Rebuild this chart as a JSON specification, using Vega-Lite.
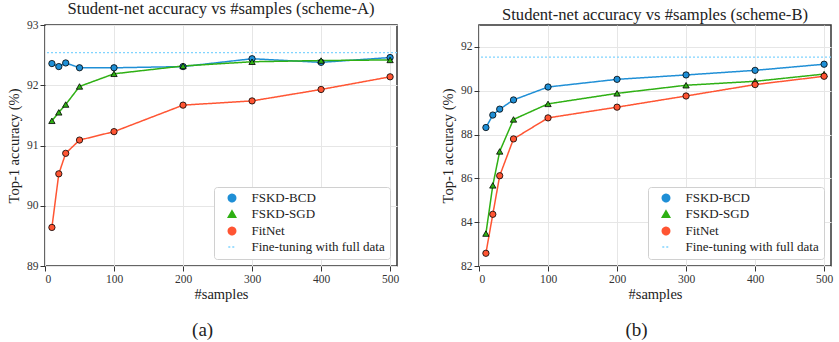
{
  "$schema": "https://vega.github.io/schema/vega-lite/v6.json",
  "padding": {"left": 5, "top": 0, "right": 2, "bottom": 0},
  "config": {
    "font": "Liberation Serif",
    "view": {"stroke": "#333333", "strokeWidth": 1.5},
    "axis": {"labelFont": "Liberation Serif", "titleFont": "Liberation Serif", "labelFontSize": 11.5, "titleFontSize": 14.5, "titleFontWeight": "normal", "labelColor": "#333333", "titleColor": "#222222", "gridColor": "#e6e6e6", "domain": false, "tickColor": "#333333", "tickSize": 5, "labelPadding": 2},
    "title": {"font": "Liberation Serif", "fontSize": 16.6, "fontWeight": "normal", "color": "#222222"},
    "legend": {"labelFont": "Liberation Serif", "labelFontSize": 13, "labelColor": "#222222", "orient": "bottom-right", "offset": 7, "fillColor": "white", "strokeColor": "#d0d0d0", "cornerRadius": 3, "padding": 4.5, "rowPadding": 2, "symbolSize": 55, "symbolStrokeWidth": 1.5, "symbolOffset": 7, "labelOffset": 13}
  },
  "resolve": {"legend": {"color": "independent", "shape": "independent", "strokeDash": "independent"}},
  "datasets": {
    "a": [
      {"series": "FSKD-BCD", "samples": 10, "acc": 92.36},
      {"series": "FSKD-BCD", "samples": 20, "acc": 92.31},
      {"series": "FSKD-BCD", "samples": 30, "acc": 92.37},
      {"series": "FSKD-BCD", "samples": 50, "acc": 92.29},
      {"series": "FSKD-BCD", "samples": 100, "acc": 92.29},
      {"series": "FSKD-BCD", "samples": 200, "acc": 92.31},
      {"series": "FSKD-BCD", "samples": 300, "acc": 92.44},
      {"series": "FSKD-BCD", "samples": 400, "acc": 92.38},
      {"series": "FSKD-BCD", "samples": 500, "acc": 92.46},
      {"series": "FSKD-SGD", "samples": 10, "acc": 91.41},
      {"series": "FSKD-SGD", "samples": 20, "acc": 91.55},
      {"series": "FSKD-SGD", "samples": 30, "acc": 91.68},
      {"series": "FSKD-SGD", "samples": 50, "acc": 91.98},
      {"series": "FSKD-SGD", "samples": 100, "acc": 92.19},
      {"series": "FSKD-SGD", "samples": 200, "acc": 92.32},
      {"series": "FSKD-SGD", "samples": 300, "acc": 92.39},
      {"series": "FSKD-SGD", "samples": 400, "acc": 92.41},
      {"series": "FSKD-SGD", "samples": 500, "acc": 92.42},
      {"series": "FitNet", "samples": 10, "acc": 89.64},
      {"series": "FitNet", "samples": 20, "acc": 90.53},
      {"series": "FitNet", "samples": 30, "acc": 90.87},
      {"series": "FitNet", "samples": 50, "acc": 91.09},
      {"series": "FitNet", "samples": 100, "acc": 91.23},
      {"series": "FitNet", "samples": 200, "acc": 91.67},
      {"series": "FitNet", "samples": 300, "acc": 91.74},
      {"series": "FitNet", "samples": 400, "acc": 91.93},
      {"series": "FitNet", "samples": 500, "acc": 92.14},
      {"series": "Fine-tuning with full data", "acc": 92.54}
    ],
    "b": [
      {"series": "FSKD-BCD", "samples": 10, "acc": 88.32},
      {"series": "FSKD-BCD", "samples": 20, "acc": 88.89},
      {"series": "FSKD-BCD", "samples": 30, "acc": 89.16},
      {"series": "FSKD-BCD", "samples": 50, "acc": 89.58},
      {"series": "FSKD-BCD", "samples": 100, "acc": 90.17},
      {"series": "FSKD-BCD", "samples": 200, "acc": 90.52},
      {"series": "FSKD-BCD", "samples": 300, "acc": 90.72},
      {"series": "FSKD-BCD", "samples": 400, "acc": 90.93},
      {"series": "FSKD-BCD", "samples": 500, "acc": 91.21},
      {"series": "FSKD-SGD", "samples": 10, "acc": 83.48},
      {"series": "FSKD-SGD", "samples": 20, "acc": 85.68},
      {"series": "FSKD-SGD", "samples": 30, "acc": 87.23},
      {"series": "FSKD-SGD", "samples": 50, "acc": 88.69},
      {"series": "FSKD-SGD", "samples": 100, "acc": 89.40},
      {"series": "FSKD-SGD", "samples": 200, "acc": 89.88},
      {"series": "FSKD-SGD", "samples": 300, "acc": 90.25},
      {"series": "FSKD-SGD", "samples": 400, "acc": 90.43},
      {"series": "FSKD-SGD", "samples": 500, "acc": 90.76},
      {"series": "FitNet", "samples": 10, "acc": 82.58},
      {"series": "FitNet", "samples": 20, "acc": 84.36},
      {"series": "FitNet", "samples": 30, "acc": 86.12},
      {"series": "FitNet", "samples": 50, "acc": 87.80},
      {"series": "FitNet", "samples": 100, "acc": 88.76},
      {"series": "FitNet", "samples": 200, "acc": 89.25},
      {"series": "FitNet", "samples": 300, "acc": 89.76},
      {"series": "FitNet", "samples": 400, "acc": 90.28},
      {"series": "FitNet", "samples": 500, "acc": 90.66},
      {"series": "Fine-tuning with full data", "acc": 91.53}
    ]
  },
  "spacing": 39,
  "hconcat": [
    {
      "title": {"text": "(a)", "orient": "bottom", "fontSize": 19, "offset": 19, "anchor": "middle"},
      "resolve": {"legend": {"color": "independent", "shape": "independent", "strokeDash": "independent"}},
      "vconcat": [
        {
          "title": {"text": "Student-net accuracy vs #samples (scheme-A)", "offset": 1},
          "width": 352, "height": 241,
          "data": {"name": "a"},
          "layer": [
            {
              "transform": [{"filter": "datum.series !== 'Fine-tuning with full data'"}],
              "mark": {"type": "line", "strokeWidth": 1.5},
              "encoding": {
                "x": {"field": "samples", "type": "quantitative", "scale": {"domain": [0, 510], "nice": false}, "axis": {"values": [0, 100, 200, 300, 400, 500], "title": "#samples", "titlePadding": 3, "labelFont": "Liberation Serif", "titleFont": "Liberation Serif"}},
                "y": {"field": "acc", "type": "quantitative", "scale": {"domain": [89, 93], "nice": false, "zero": false}, "axis": {"values": [89, 90, 91, 92, 93], "format": "d", "title": "Top-1 accuracy (%)", "titlePadding": 5, "labelFont": "Liberation Serif", "titleFont": "Liberation Serif"}},
                "color": {"field": "series", "type": "nominal", "scale": {"domain": ["FSKD-BCD", "FSKD-SGD", "FitNet", "Fine-tuning with full data"], "range": ["#1f8fd6", "#2fb014", "#ff5533", "#80d4ff"]}, "legend": {"title": null}},
                "strokeDash": {"field": "series", "type": "nominal", "scale": {"domain": ["FSKD-BCD", "FSKD-SGD", "FitNet", "Fine-tuning with full data"], "range": [[1, 0], [1, 0], [1, 0], [2, 2]]}, "legend": {"title": null}}
              }
            },
            {
              "transform": [{"filter": "datum.series !== 'Fine-tuning with full data'"}],
              "mark": {"type": "point", "filled": true, "opacity": 1, "stroke": "black", "strokeWidth": 0.8, "size": 40},
              "encoding": {
                "x": {"field": "samples", "type": "quantitative"},
                "y": {"field": "acc", "type": "quantitative"},
                "color": {"field": "series", "type": "nominal", "legend": {"title": null}},
                "shape": {"field": "series", "type": "nominal", "scale": {"domain": ["FSKD-BCD", "FSKD-SGD", "FitNet", "Fine-tuning with full data"], "range": ["circle", "triangle-up", "circle", "stroke"]}, "legend": {"title": null}}
              }
            },
            {
              "transform": [{"filter": "datum.series === 'Fine-tuning with full data'"}],
              "mark": {"type": "rule", "strokeWidth": 1.3},
              "encoding": {
                "y": {"field": "acc", "type": "quantitative"},
                "color": {"field": "series", "type": "nominal", "legend": {"title": null}},
                "strokeDash": {"field": "series", "type": "nominal", "legend": {"title": null}}
              }
            }
          ]
        }
      ]
    },
    {
      "title": {"text": "(b)", "orient": "bottom", "fontSize": 19, "offset": 19, "anchor": "middle"},
      "resolve": {"legend": {"color": "independent", "shape": "independent", "strokeDash": "independent"}},
      "vconcat": [
        {
          "title": {"text": "Student-net accuracy vs #samples (scheme-B)", "offset": 1},
          "width": 352, "height": 241,
          "data": {"name": "b"},
          "layer": [
            {
              "transform": [{"filter": "datum.series !== 'Fine-tuning with full data'"}],
              "mark": {"type": "line", "strokeWidth": 1.5},
              "encoding": {
                "x": {"field": "samples", "type": "quantitative", "scale": {"domain": [0, 510], "nice": false}, "axis": {"values": [0, 100, 200, 300, 400, 500], "title": "#samples", "titlePadding": 3, "labelFont": "Liberation Serif", "titleFont": "Liberation Serif"}},
                "y": {"field": "acc", "type": "quantitative", "scale": {"domain": [82, 93], "nice": false, "zero": false}, "axis": {"values": [82, 84, 86, 88, 90, 92], "format": "d", "title": "Top-1 accuracy (%)", "titlePadding": 5, "labelFont": "Liberation Serif", "titleFont": "Liberation Serif"}},
                "color": {"field": "series", "type": "nominal", "scale": {"domain": ["FSKD-BCD", "FSKD-SGD", "FitNet", "Fine-tuning with full data"], "range": ["#1f8fd6", "#2fb014", "#ff5533", "#80d4ff"]}, "legend": {"title": null}},
                "strokeDash": {"field": "series", "type": "nominal", "scale": {"domain": ["FSKD-BCD", "FSKD-SGD", "FitNet", "Fine-tuning with full data"], "range": [[1, 0], [1, 0], [1, 0], [2, 2]]}, "legend": {"title": null}}
              }
            },
            {
              "transform": [{"filter": "datum.series !== 'Fine-tuning with full data'"}],
              "mark": {"type": "point", "filled": true, "opacity": 1, "stroke": "black", "strokeWidth": 0.8, "size": 40},
              "encoding": {
                "x": {"field": "samples", "type": "quantitative"},
                "y": {"field": "acc", "type": "quantitative"},
                "color": {"field": "series", "type": "nominal", "legend": {"title": null}},
                "shape": {"field": "series", "type": "nominal", "scale": {"domain": ["FSKD-BCD", "FSKD-SGD", "FitNet", "Fine-tuning with full data"], "range": ["circle", "triangle-up", "circle", "stroke"]}, "legend": {"title": null}}
              }
            },
            {
              "transform": [{"filter": "datum.series === 'Fine-tuning with full data'"}],
              "mark": {"type": "rule", "strokeWidth": 1.3},
              "encoding": {
                "y": {"field": "acc", "type": "quantitative"},
                "color": {"field": "series", "type": "nominal", "legend": {"title": null}},
                "strokeDash": {"field": "series", "type": "nominal", "legend": {"title": null}}
              }
            }
          ]
        }
      ]
    }
  ]
}
